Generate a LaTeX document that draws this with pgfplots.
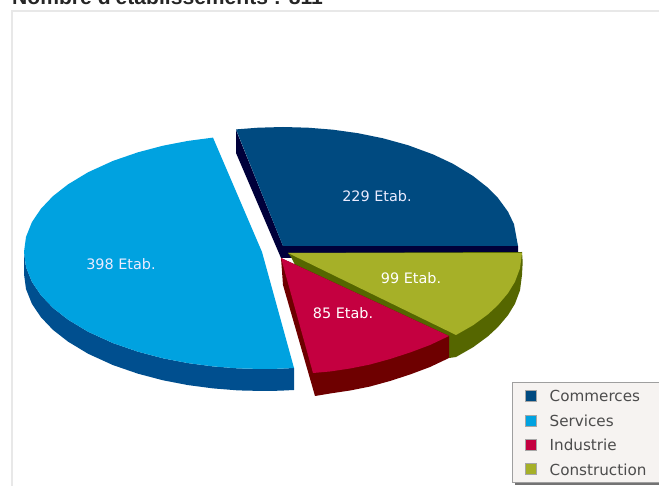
\documentclass[border=0pt]{standalone}
\usepackage{fontspec}
\setmainfont{DejaVu Sans}
\newfontfamily\titlefont{Liberation Sans}
\usepackage{pgfplots}
\pgfplotsset{compat=1.18}
\definecolor{comm}{HTML}{004A80}
\definecolor{commd}{HTML}{00003A}
\definecolor{serv}{HTML}{00A2E0}
\definecolor{servd}{HTML}{004F8F}
\definecolor{indu}{HTML}{C40040}
\definecolor{indud}{HTML}{6E0000}
\definecolor{cons}{HTML}{A6B028}
\definecolor{consd}{HTML}{556600}
\definecolor{legbg}{HTML}{F6F3F1}
\begin{document}
\begin{tikzpicture}
\path[use as bounding box] (0,0) rectangle (659pt,486pt);
\begin{axis}[
  scale only axis, width=659pt, height=486pt,
  xmin=0, xmax=659, ymin=0, ymax=486, y dir=reverse,
  axis lines=none, ticks=none, clip=true,
  legend cell align=left,
  legend image code/.code={\draw[#1,draw=gray!70,line width=0.5pt] (0pt,-5.5pt) rectangle (11pt,5.5pt); \path[draw=none,fill=none] (22pt,0pt) circle (0pt);},
  legend style={at={(axis cs:512,382)}, anchor=north west, draw=gray!75, fill=legbg,
    line width=0.8pt, font=\fontsize{15.2}{17}\selectfont\color{black!70},
    inner xsep=13pt, inner ysep=4.5pt, row sep=6.4pt,
    nodes={text height=13pt, text depth=1pt}},
]
% frame
\addplot[forget plot, draw=black!9, line width=1.4pt] coordinates {(12,486) (12,11) (659,11)};
% legend shadow
\addplot[forget plot, fill=black!55, draw=none] coordinates {(515,470) (659,470) (659,485) (515,485)} --cycle;
% sides
\addplot[forget plot, fill=commd, draw=none] coordinates {(236,130) (236,153) (281,258) (292,258) (518,252) (518,246) (283,246)} --cycle;
\addplot[forget plot, fill=consd, draw=none] coordinates {(522,252) (522.7,262) (522,275) (520,290.4) (515,303.7) (508,315.2) (498,327) (488,336.3) (473,347.3) (456,357) (449,358) (300,275) (291,257) (288,253)} --cycle;
\addplot[forget plot, fill=indud, draw=none] coordinates {(281,258) (283,285) (315,396) (330,393.5) (350,390.5) (370,386.5) (390,381) (410,374.5) (430,367) (449,358) (449,336)} --cycle;
\addplot[forget plot, fill=servd, draw=none] coordinates {(24,252) (26,267.1) (32,282) (41,295.3) (53,307.9) (68,319.6) (88,331.7) (113,343.1) (138,351.7) (163,358.3) (188,363.1) (213,366.4) (238,368.4) (263,369) (280,368.7) (294,368) (294,390) (280,390.7) (263,391) (238,390.4) (213,388.4) (188,385.1) (163,380.3) (138,373.7) (113,365.1) (88,353.7) (68,341.6) (53,329.9) (41,317.3) (32,304) (26,289.1) (24,274)} --cycle;
% top faces
\addplot[fill=comm, draw=none] coordinates {(283,246) (236,129.4) (258,127.7) (283,127) (308,127.7) (333,129.7) (358,133.2) (383,138.3) (408,145.2) (433,154.4) (453,163.8) (473,176) (488,187.8) (498,198) (508,211.7) (514,224.2) (518,246)} --cycle;
\addlegendentry{Commerces}
\addplot[fill=serv, draw=none] coordinates {(262,252) (213,137.6) (188,140.9) (163,145.7) (138,152.3) (113,160.9) (88,172.3) (68,184.4) (53,196.1) (41,208.7) (32,222) (26,236.9) (24,252) (26,267.1) (32,282) (41,295.3) (53,307.9) (68,319.6) (88,331.7) (113,343.1) (138,351.7) (163,358.3) (188,363.1) (213,366.4) (238,368.4) (263,369) (280,368.7) (294,368)} --cycle;
\addlegendentry{Services}
\addplot[fill=indu, draw=none] coordinates {(281,258) (313,373) (330,371.5) (350,368.5) (370,364.5) (390,359) (410,352.5) (430,345) (449,336)} --cycle;
\addlegendentry{Industrie}
\addplot[fill=cons, draw=none] coordinates {(288,253) (456,335) (473,325.3) (488,314.3) (498,305) (508,293.2) (515,281.7) (520,268.4) (522,253)} --cycle;
\addlegendentry{Construction}
% labels
\node[text=white!92!blue, font=\fontsize{14.4}{16}\selectfont] at (axis cs:377,196) {229 Etab.};
\node[text=white!92!blue, font=\fontsize{14.4}{16}\selectfont] at (axis cs:121,264) {398 Etab.};
\node[text=white, font=\fontsize{14.4}{16}\selectfont] at (axis cs:343,313) {85 Etab.};
\node[text=white, font=\fontsize{14.4}{16}\selectfont] at (axis cs:411,278) {99 Etab.};
% title, cut by the top of the picture
\node[anchor=base west, inner sep=0pt, text=black!85, font=\titlefont\bfseries\fontsize{21.1}{24}\selectfont] at (axis cs:12,5) {Nombre d'établissements : 811};
\end{axis}
\end{tikzpicture}
\end{document}
